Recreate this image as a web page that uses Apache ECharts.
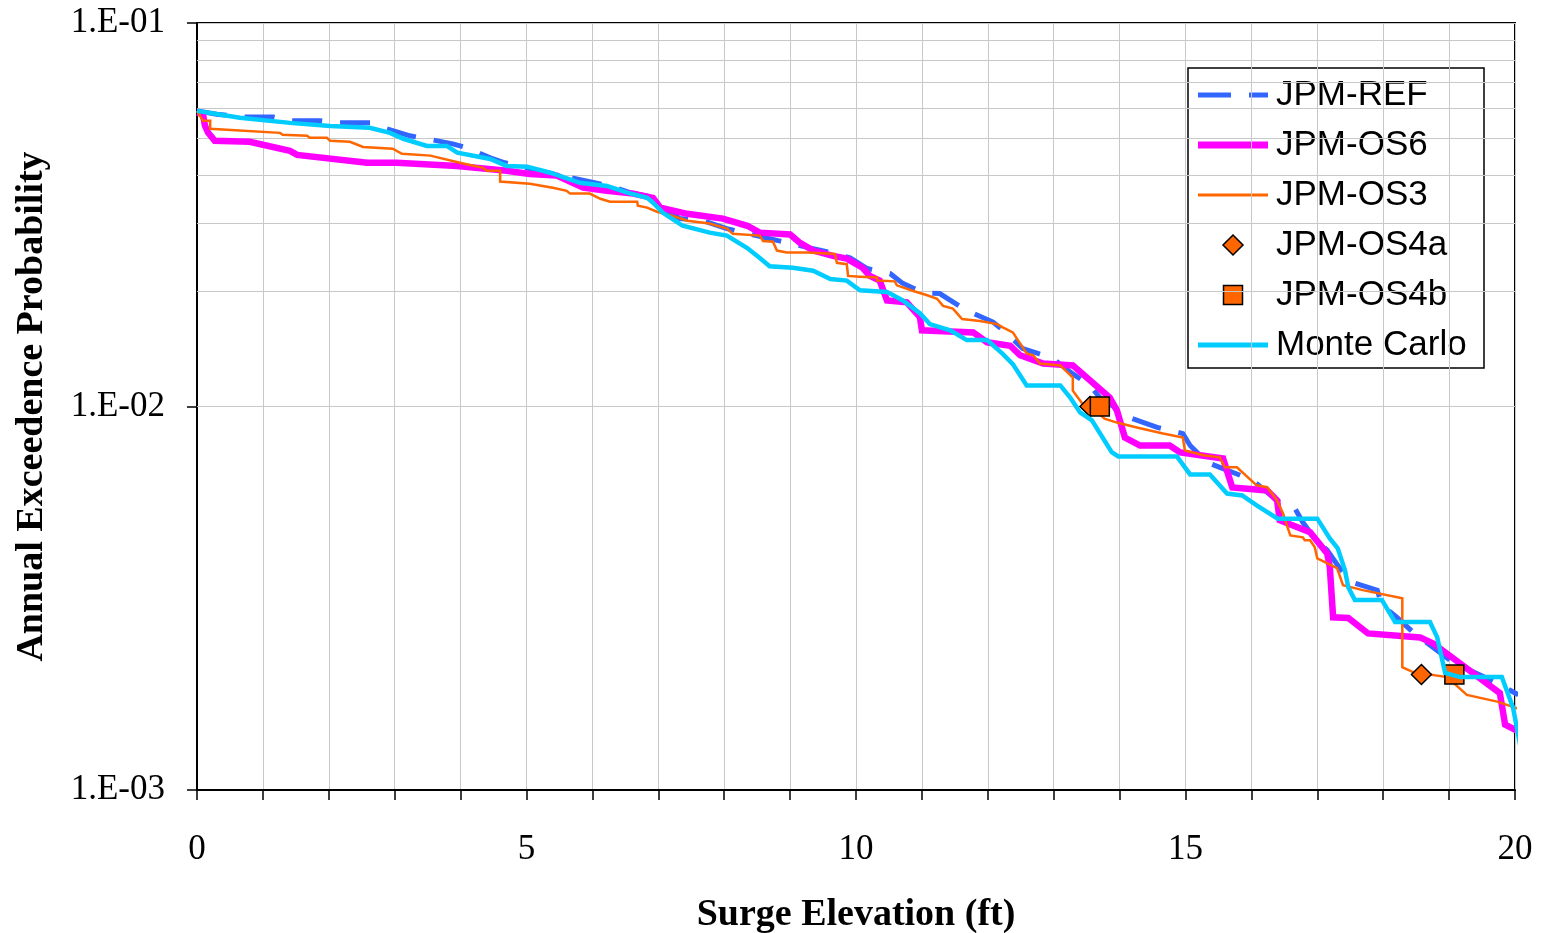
<!DOCTYPE html>
<html>
<head>
<meta charset="utf-8">
<title>Annual Exceedence Probability vs Surge Elevation</title>
<script src="https://cdn.jsdelivr.net/npm/echarts@6/dist/echarts.min.js"></script>
<style>
  html, body { margin: 0; padding: 0; background: #fff; }
  #chart { width: 1543px; height: 933px; }
</style>
</head>
<body>
<div id="chart"></div>
<script>
// Surge elevation (ft) vs annual exceedence probability, [x, y] pairs
const jpmRef = [
  [0, 0.059], [0.3, 0.0578], [0.7, 0.0569], [1.15, 0.0569], [1.41, 0.0556], [1.87, 0.0556],
  [2.17, 0.0549], [2.63, 0.0549], [2.88, 0.053], [3.23, 0.0508], [3.49, 0.0499], [3.88, 0.0484],
  [4.11, 0.0472], [4.45, 0.0445], [4.67, 0.0432], [5.1, 0.0415], [5.61, 0.0397], [6.27, 0.0376],
  [6.57, 0.0361], [6.9, 0.0352], [7.05, 0.033], [7.33, 0.0309], [7.68, 0.0305], [8.04, 0.0291],
  [8.85, 0.027], [9.26, 0.026], [9.61, 0.0252], [9.91, 0.0244], [10.17, 0.0229], [10.52, 0.0222],
  [10.7, 0.021], [11.02, 0.0198], [11.27, 0.0197], [11.61, 0.0181], [11.78, 0.0175], [12.08, 0.0166],
  [12.29, 0.0155], [12.53, 0.01416], [12.76, 0.01375], [12.99, 0.01334], [13.28, 0.0122],
  [13.55, 0.01135], [13.7, 0.01055], [14.0, 0.00977], [14.19, 0.0093], [14.57, 0.00882],
  [14.96, 0.0085], [15.07, 0.00791], [15.33, 0.00715], [15.52, 0.00694], [15.8, 0.00665],
  [16.02, 0.00641], [16.43, 0.00562], [16.66, 0.00542], [16.78, 0.00499], [16.96, 0.00453],
  [17.15, 0.00422], [17.34, 0.00379], [17.53, 0.00348], [17.91, 0.00332], [17.98, 0.00303],
  [18.21, 0.00282], [18.45, 0.00258], [19.06, 0.00215], [19.73, 0.0019], [20.05, 0.00177]
];

const jpmOs6 = [
  [0, 0.0583], [0.09, 0.058], [0.12, 0.054], [0.17, 0.0517], [0.27, 0.0493], [0.8, 0.049],
  [1.41, 0.0464], [1.52, 0.0453], [2.58, 0.0432], [3.03, 0.0432], [3.95, 0.0424], [4.7, 0.0412],
  [5.05, 0.0404], [5.46, 0.04], [5.86, 0.0372], [6.22, 0.0365], [6.62, 0.0359], [6.92, 0.035],
  [7.03, 0.033], [7.44, 0.0318], [7.98, 0.0309], [8.35, 0.0296], [8.54, 0.0284], [9.0, 0.0281],
  [9.15, 0.0267], [9.35, 0.0255], [9.65, 0.0247], [9.86, 0.0243], [10.1, 0.023], [10.21, 0.0219],
  [10.36, 0.0213], [10.47, 0.0189], [10.77, 0.0187], [10.97, 0.0171], [11.0, 0.0158],
  [11.78, 0.0156], [11.99, 0.0147], [12.34, 0.0144], [12.49, 0.0136], [12.84, 0.01295],
  [13.29, 0.0128], [13.85, 0.01055], [13.96, 0.00976], [14.08, 0.0083], [14.31, 0.00791],
  [14.76, 0.00791], [14.92, 0.00759], [15.57, 0.00732], [15.71, 0.00615], [16.24, 0.00604],
  [16.39, 0.00569], [16.43, 0.00505], [16.89, 0.0047], [17.15, 0.00414], [17.19, 0.00381],
  [17.24, 0.00282], [17.47, 0.00281], [17.77, 0.00256], [18.56, 0.0025], [18.76, 0.00241],
  [19.77, 0.00179], [19.85, 0.00148], [20.02, 0.00143]
];

const jpmOs3 = [
  [0, 0.059], [0.09, 0.0556], [0.2, 0.0556], [0.2, 0.053], [1.26, 0.0517], [1.3, 0.0511],
  [1.67, 0.0508], [1.71, 0.0502], [1.97, 0.0502], [2.02, 0.0493], [2.32, 0.049], [2.52, 0.0475],
  [2.97, 0.047], [3.11, 0.0456], [3.54, 0.0451], [3.99, 0.0432], [4.34, 0.0419], [4.4, 0.0412],
  [4.6, 0.0412], [4.6, 0.0386], [5.05, 0.0381], [5.4, 0.0372], [5.61, 0.0365], [5.66, 0.0359],
  [5.96, 0.0359], [6.12, 0.0348], [6.27, 0.0342], [6.68, 0.0342], [6.69, 0.0334], [6.83, 0.033],
  [6.98, 0.0322], [7.22, 0.0314], [7.44, 0.0305], [7.78, 0.03], [8.04, 0.0291], [8.13, 0.0282],
  [8.54, 0.0279], [8.59, 0.027], [8.74, 0.0269], [8.8, 0.0255], [8.95, 0.0252], [9.26, 0.0252],
  [9.68, 0.025], [9.71, 0.0237], [9.86, 0.0235], [9.88, 0.0219], [10.06, 0.0218], [10.32, 0.0217],
  [10.32, 0.0213], [10.59, 0.0212], [10.62, 0.0207], [10.87, 0.02], [11.08, 0.0195],
  [11.23, 0.0191], [11.32, 0.0183], [11.47, 0.018], [11.61, 0.0169], [11.88, 0.0167],
  [12.14, 0.0164], [12.22, 0.0161], [12.38, 0.0156], [12.59, 0.01375], [12.69, 0.0136],
  [12.79, 0.01295], [13.1, 0.0128], [13.29, 0.0119], [13.29, 0.011], [13.43, 0.0102],
  [13.6, 0.0099], [13.77, 0.0093], [13.96, 0.00908], [14.26, 0.00882], [14.66, 0.0085],
  [14.96, 0.0083], [14.99, 0.00768], [15.27, 0.00746], [15.52, 0.00737], [15.6, 0.00694],
  [15.78, 0.00694], [16.08, 0.00623], [16.24, 0.00616], [16.39, 0.00569], [16.48, 0.00526],
  [16.59, 0.00461], [16.78, 0.00456], [16.81, 0.00448], [16.89, 0.00448], [16.96, 0.0043],
  [17.0, 0.00402], [17.3, 0.00379], [17.39, 0.00342], [17.69, 0.00332], [18.29, 0.00316],
  [18.29, 0.00209], [18.45, 0.00203], [18.97, 0.00197], [19.27, 0.00177], [19.73, 0.0017],
  [20.05, 0.00163]
];

const jpmOs4a = [[13.55, 0.01], [18.58, 0.002]];
const jpmOs4b = [[13.7, 0.01], [19.08, 0.002]];

const monteCarlo = [
  [0, 0.059], [0.65, 0.0566], [1.41, 0.0549], [2.02, 0.0539], [2.62, 0.0533], [2.93, 0.0517],
  [3.13, 0.0499], [3.49, 0.0478], [3.79, 0.0478], [3.95, 0.0459], [4.45, 0.0442], [4.7, 0.0424],
  [5.01, 0.0422], [5.36, 0.0407], [5.81, 0.0383], [6.22, 0.0376], [6.53, 0.0361], [6.83, 0.035],
  [6.92, 0.034], [7.07, 0.032], [7.37, 0.0296], [7.78, 0.0284], [8.04, 0.0279], [8.35, 0.0259],
  [8.54, 0.0244], [8.69, 0.0232], [9.04, 0.023], [9.35, 0.0226], [9.61, 0.0215], [9.86, 0.0213],
  [10.06, 0.0201], [10.47, 0.0199], [10.71, 0.0189], [10.97, 0.0175], [11.12, 0.0164],
  [11.43, 0.0158], [11.68, 0.0149], [11.99, 0.0149], [12.23, 0.0137], [12.38, 0.0129],
  [12.59, 0.01135], [13.1, 0.01135], [13.25, 0.01055], [13.4, 0.00965], [13.58, 0.0092],
  [13.88, 0.0076], [13.98, 0.00741], [14.87, 0.00741], [15.07, 0.00665], [15.37, 0.00665],
  [15.63, 0.00593], [15.86, 0.00586], [16.08, 0.00552], [16.4, 0.0051], [17.0, 0.0051],
  [17.19, 0.00453], [17.31, 0.00427], [17.42, 0.00374], [17.47, 0.00338], [17.57, 0.00313],
  [17.98, 0.00313], [18.18, 0.00274], [18.71, 0.00274], [18.82, 0.0025], [18.94, 0.00202],
  [19.17, 0.00197], [19.8, 0.00197], [19.97, 0.00164], [20.1, 0.00125]
];

// Axis ticks and labels
const xMin = 0, xMax = 20, xMajorStep = 5;
const yTickValues = [0.001, 0.01, 0.1];
const yTickLabels = ['1.E-03', '1.E-02', '1.E-01'];
const yMinorGrid = [
  0.002, 0.003, 0.004, 0.005, 0.006, 0.007, 0.008, 0.009,
  0.02, 0.03, 0.04, 0.05, 0.06, 0.07, 0.08, 0.09
];
const seriesNames = ['JPM-REF', 'JPM-OS6', 'JPM-OS3', 'JPM-OS4a', 'JPM-OS4b', 'Monte Carlo'];

const GRID_GRAY = '#c8c8c8';
const SERIF = '"Liberation Serif", "Times New Roman", serif';
const SANS = '"Liberation Sans", Arial, sans-serif';

// Series styles (shared by plot and legend key)
const styles = [
  { kind: 'line', color: '#3366ff', width: 5, dash: [30, 18], keyWidth: 5, keyDash: [33, 18] },
  { kind: 'line', color: '#ff00ff', width: 6.5, dash: null, keyWidth: 7 },
  { kind: 'line', color: '#ff6600', width: 2.5, dash: null, keyWidth: 3 },
  { kind: 'diamond', color: '#ff6600', size: 20 },
  { kind: 'rect', color: '#ff6600', size: 19 },
  { kind: 'line', color: '#00ccff', width: 4.5, dash: null, keyWidth: 5 }
];
const seriesData = [jpmRef, jpmOs6, jpmOs3, jpmOs4a, jpmOs4b, monteCarlo];

const chart = echarts.init(document.getElementById('chart'), null, { renderer: 'canvas' });

const series = seriesData.map((data, i) => {
  const s = styles[i];
  if (s.kind === 'line') {
    return {
      name: seriesNames[i], type: 'line', data, symbol: 'none', showSymbol: false,
      smooth: false, clip: false, z: 3 + i,
      lineStyle: { color: s.color, width: s.width, type: s.dash || 'solid', cap: 'butt', join: 'miter' },
      itemStyle: { color: s.color },
      emphasis: { disabled: true }
    };
  }
  return {
    name: seriesNames[i], type: 'scatter', data, symbol: s.kind, symbolSize: s.size, z: 3 + i,
    itemStyle: { color: s.color, borderColor: '#000', borderWidth: 1.5, opacity: 1 },
    emphasis: { disabled: true }
  };
});

// Minor horizontal grid lines at 2..9 within each decade
series[0].markLine = {
  silent: true, z: 1, symbol: ['none', 'none'], animation: false,
  label: { show: false },
  lineStyle: { color: GRID_GRAY, width: 1, type: 'solid' },
  emphasis: { disabled: true },
  data: yMinorGrid.map(v => ({ yAxis: v }))
};

// Legend box drawn as graphic elements
const LEG = { x: 1188, y: 68, w: 296, h: 300, keyX0: 1198, keyX1: 1268, textX: 1276, row0: 95, rowStep: 50 };
const legendChildren = [{
  type: 'rect', shape: { x: LEG.x, y: LEG.y, width: LEG.w, height: LEG.h },
  style: { fill: '#fff', stroke: '#000', lineWidth: 1.5 }
}];
styles.forEach((s, i) => {
  const cy = LEG.row0 + i * LEG.rowStep;
  const cx = (LEG.keyX0 + LEG.keyX1) / 2;
  if (s.kind === 'line') {
    legendChildren.push({
      type: 'line', shape: { x1: LEG.keyX0, y1: cy, x2: LEG.keyX1, y2: cy },
      style: { stroke: s.color, lineWidth: s.keyWidth, lineDash: s.keyDash || null, lineCap: 'butt' }
    });
  } else if (s.kind === 'diamond') {
    const r = s.size / 2;
    legendChildren.push({
      type: 'polygon', shape: { points: [[cx, cy - r], [cx + r, cy], [cx, cy + r], [cx - r, cy]] },
      style: { fill: s.color, stroke: '#000', lineWidth: 1.5 }
    });
  } else {
    const r = s.size / 2;
    legendChildren.push({
      type: 'rect', shape: { x: cx - r, y: cy - r, width: s.size, height: s.size },
      style: { fill: s.color, stroke: '#000', lineWidth: 1.5 }
    });
  }
  legendChildren.push({
    type: 'text',
    style: {
      x: LEG.textX, y: cy, text: seriesNames[i], fill: '#000',
      font: '35px ' + SANS, textVerticalAlign: 'middle', verticalAlign: 'middle', textAlign: 'left'
    }
  });
});

chart.setOption({
  animation: false,
  backgroundColor: '#fff',
  grid: {
    left: 197, right: 28, top: 23, bottom: 143,
    show: true, borderColor: '#000', borderWidth: 2, backgroundColor: 'transparent',
    containLabel: false, outerBoundsMode: 'none'
  },
  xAxis: {
    type: 'value', min: xMin, max: xMax, interval: xMajorStep,
    name: 'Surge Elevation (ft)', nameLocation: 'middle', nameGap: 106,
    nameTextStyle: { fontFamily: SERIF, fontWeight: 'bold', fontSize: 38, color: '#000' },
    axisLine: { show: true, onZero: false, lineStyle: { color: '#000', width: 2 } },
    axisTick: { show: true, inside: false, length: 10, lineStyle: { color: '#000', width: 1.5 } },
    minorTick: { show: true, splitNumber: 5, length: 10, lineStyle: { color: '#000', width: 1.5 } },
    axisLabel: { fontFamily: SERIF, fontSize: 35, color: '#000', margin: 42 },
    splitLine: { show: true, lineStyle: { color: GRID_GRAY, width: 1 } },
    minorSplitLine: { show: true, lineStyle: { color: GRID_GRAY, width: 1 } }
  },
  yAxis: {
    type: 'log', logBase: 10, min: yTickValues[0], max: yTickValues[yTickValues.length - 1],
    splitNumber: 2,
    name: 'Annual Exceedence Probability', nameLocation: 'middle', nameGap: 146, nameRotate: 90,
    nameTextStyle: { fontFamily: SERIF, fontWeight: 'bold', fontSize: 38, color: '#000' },
    axisLine: { show: true, onZero: false, lineStyle: { color: '#000', width: 2 } },
    axisTick: { show: true, inside: false, length: 10, lineStyle: { color: '#000', width: 1.5 } },
    axisLabel: {
      fontFamily: SERIF, fontSize: 35, color: '#000', margin: 32,
      formatter: v => {
        let best = 0;
        yTickValues.forEach((t, i) => {
          if (Math.abs(Math.log10(t) - Math.log10(v)) < Math.abs(Math.log10(yTickValues[best]) - Math.log10(v))) best = i;
        });
        return yTickLabels[best];
      }
    },
    splitLine: { show: true, lineStyle: { color: GRID_GRAY, width: 1 } }
  },
  legend: { show: false },
  graphic: { elements: [{ type: 'group', z: 100, silent: true, children: legendChildren }] },
  series
});
</script>
</body>
</html>
